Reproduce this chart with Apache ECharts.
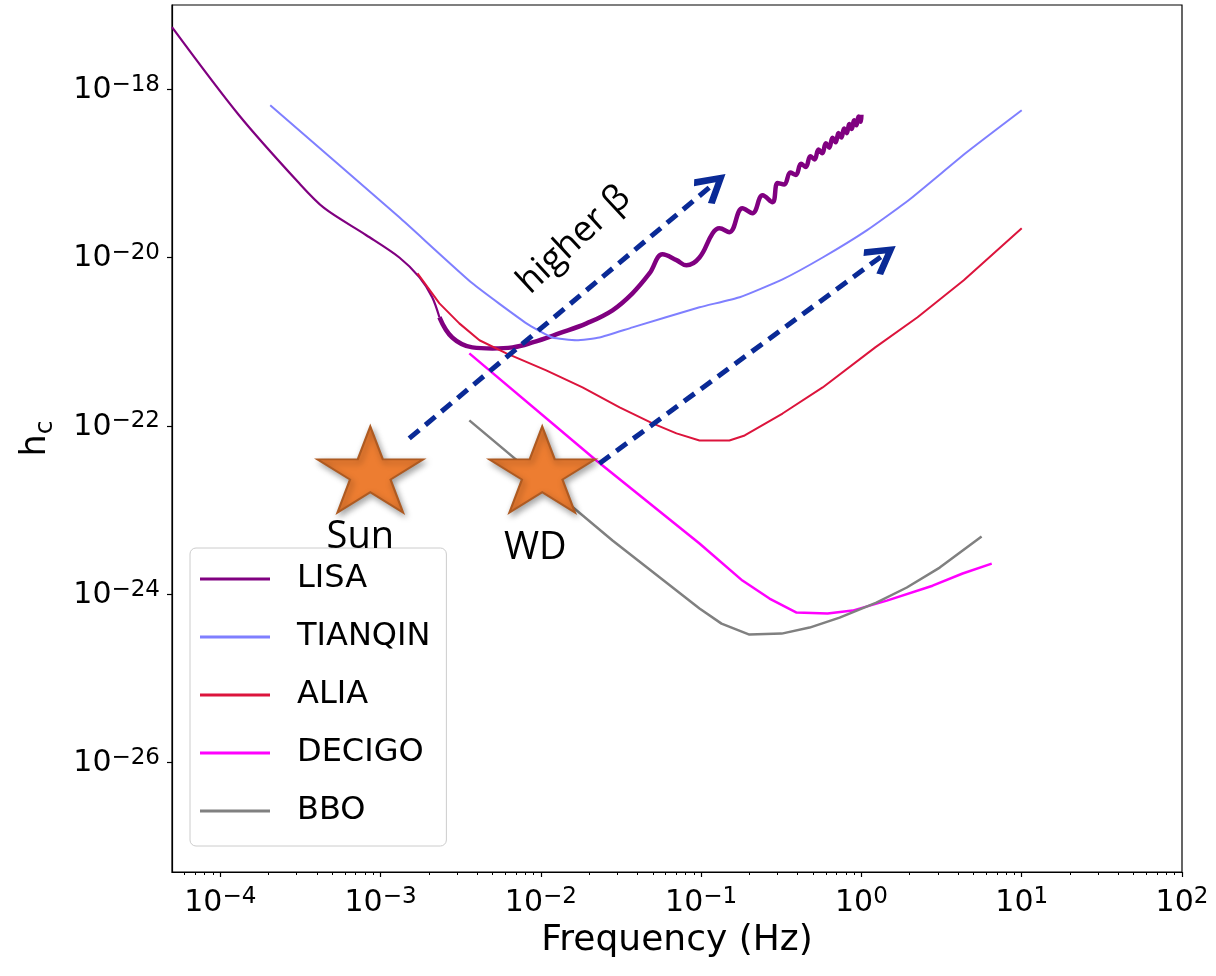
<!DOCTYPE html>
<html>
<head>
<meta charset="utf-8">
<script src="https://cdn.jsdelivr.net/npm/echarts@6/dist/echarts.min.js"></script>
<style>
html, body { margin: 0; padding: 0; background: #fff; }
#chart { width: 1216px; height: 976px; }
</style>
</head>
<body>
<div id="chart"></div>
<script>
// 读图得到的数据: 频率 (Hz) 和 h_c
var lisaFreqA = [5.0e-5, 1.31e-4, 3.11e-4, 4.46e-4, 8.15e-4, 1.31e-3, 1.75e-3, 2.10e-3, 2.33e-3];
var lisaHcA = [5.46e-18, 4.9e-19, 7.6e-20, 3.85e-20, 1.84e-20, 1.0e-20, 5.8e-21, 3.37e-21, 1.95e-21];

// LISA 粗线部分 (带振荡)
var lisaFreqB = [2.33e-3, 2.80e-3, 3.74e-3, 4.99e-3, 6.65e-3, 8.87e-3, 1.31e-2, 1.93e-2, 2.80e-2, 3.73e-2,
	4.77e-2, 5.74e-2, 7.02e-2, 8.10e-2, 9.77e-2, 0.118, 0.130, 0.150, 0.181, 0.209, 0.242, 0.279,
	0.30, 0.33, 0.36, 0.39, 0.42, 0.45, 0.48, 0.51, 0.54, 0.57, 0.60, 0.63, 0.66, 0.69, 0.72, 0.75,
	0.78, 0.81, 0.84, 0.87, 0.90, 0.93, 0.96, 0.99, 1.0];
var lisaHcB = [1.95e-21, 1.12e-21, 8.55e-22, 8.3e-22, 8.55e-22, 9.8e-22, 1.26e-21, 1.65e-21, 2.36e-21, 3.75e-21,
	6.5e-21, 1.09e-20, 9.3e-21, 8.07e-21, 1.0e-20, 1.94e-20, 2.22e-20, 2.0e-20, 3.85e-20, 3.36e-20, 5.5e-20, 4.53e-20,
	7.69e-20, 7.38e-20, 1.02e-19, 9.57e-20, 1.30e-19, 1.19e-19, 1.60e-19, 1.46e-19, 1.92e-19, 1.73e-19, 2.28e-19, 2.02e-19,
	2.64e-19, 2.34e-19, 3.01e-19, 2.66e-19, 3.42e-19, 3.0e-19, 3.85e-19, 3.36e-19, 4.28e-19, 3.72e-19, 4.73e-19, 4.09e-19, 4.96e-19];

var tianqinFreq = [2.05e-4, 1.31e-3, 3.74e-3, 8.13e-3, 1.18e-2, 1.67e-2, 2.32e-2, 3.73e-2, 9.77e-2, 0.174,
	0.322, 0.573, 1.08, 1.97, 4.54, 10.0];
var tianqinHc = [6.45e-19, 3.0e-20, 4.93e-21, 1.65e-21, 1.12e-21, 1.04e-21, 1.12e-21, 1.48e-21, 2.56e-21, 3.37e-21,
	5.5e-21, 1.0e-20, 2.1e-20, 4.79e-20, 1.78e-19, 5.62e-19];

var aliaFreq = [1.70e-3, 2.33e-3, 3.10e-3, 4.14e-3, 6.10e-3, 1.08e-2, 1.82e-2, 3.10e-2, 4.98e-2, 7.02e-2,
	9.77e-2, 0.150, 0.187, 0.322, 0.573, 1.22, 2.24, 4.35, 10.0];
var aliaHc = [6.48e-21, 2.85e-21, 1.65e-21, 1.04e-21, 7.26e-22, 4.56e-22, 2.86e-22, 1.66e-22, 1.07e-22, 8.13e-23,
	6.70e-23, 6.70e-23, 7.69e-23, 1.40e-22, 2.86e-22, 8.55e-22, 1.95e-21, 5.36e-21, 2.22e-20];

var decigoFreq = [3.58e-3, 2.22e-2, 9.77e-2, 0.181, 0.267, 0.394, 0.615, 0.881, 1.44, 2.78, 4.28, 6.50];
var decigoHc = [7.26e-22, 3.88e-23, 4.0e-24, 1.45e-24, 8.87e-25, 6.04e-25, 5.88e-25, 6.38e-25, 8.39e-25, 1.26e-24, 1.76e-24, 2.31e-24];

var bboFreq = [3.58e-3, 2.80e-2, 9.77e-2, 0.134, 0.200, 0.318, 0.475, 0.731, 1.24, 1.92, 3.08, 5.62];
var bboHc = [1.16e-22, 4.34e-24, 6.74e-25, 4.47e-25, 3.31e-25, 3.40e-25, 4.01e-25, 5.27e-25, 7.94e-25, 1.20e-24, 2.07e-24, 4.84e-24];

// 标注: 星星和箭头
var starNames = ['Sun', 'WD'];
var starFreq = [8.63e-4, 1.02e-2];
var starHc = [3.03e-23, 3.03e-23];
var arrowFrom = [[1.51e-3, 7.08e-23], [2.32e-2, 3.57e-23]];
var arrowTo = [[0.119, 7.41e-20], [1.36, 1.06e-20]];

// 坐标轴 (log10 指数)
var xMin = 5e-5, xMax = 100;
var yMin = 5.0e-28, yMax = 1e-17;
var xTickExp = [-4, -3, -2, -1, 0, 1, 2];
var yTickExp = [-26, -24, -22, -20, -18];

function toLog(freq, hc) {
	return freq.map(function (f, i) { return [Math.log10(f), Math.log10(hc[i])]; });
}

// x 轴次刻度
var xMinor = [];
for (var n = -5; n <= 1; n++) {
	for (var k = 2; k <= 9; k++) {
		var v = Math.log10(k) + n;
		if (v > Math.log10(xMin) && v < Math.log10(xMax)) xMinor.push(v);
	}
}

function expLabel(v) {
	var e = Math.round(v);
	return '{b|10}{s|' + (e < 0 ? '\u2212' : '') + Math.abs(e) + '}';
}

var tickRich = {
	b: { fontSize: 30, fontFamily: 'DejaVu Sans', color: '#000', lineHeight: 32, verticalAlign: 'bottom' },
	s: { fontSize: 23, fontFamily: 'DejaVu Sans', color: '#000', lineHeight: 22, verticalAlign: 'top' }
};

var starPath = 'path://M50,0 L61.23,34.55 L97.55,34.55 L68.17,55.9 L79.39,90.45 L50,69.1 L20.61,90.45 L31.83,55.9 L2.45,34.55 L38.77,34.55 Z';
var chevronPath = 'path://M50,0 L100,72 L84,84 L50,34 L16,84 L0,72 Z';

var chart = echarts.init(document.getElementById('chart'));

var option = {
	animation: false,
	backgroundColor: '#fff',
	grid: {
		left: 172, right: 34, top: 5, bottom: 104,
		show: true, borderColor: '#000', borderWidth: 1.2,
		outerBoundsMode: 'none'
	},
	legend: {
		data: ['LISA', 'TIANQIN', 'ALIA', 'DECIGO', 'BBO'],
		orient: 'vertical',
		left: 190, top: 548,
		padding: [14, 16, 18, 10],
		icon: 'rect',
		itemWidth: 70, itemHeight: 3, itemGap: 24,
		backgroundColor: 'rgba(255,255,255,0.8)',
		borderColor: '#cccccc', borderWidth: 1, borderRadius: 6,
		textStyle: { fontFamily: 'DejaVu Sans', fontSize: 32, color: '#000', lineHeight: 34, padding: [0, 0, 0, 22] },
		selectedMode: false
	},
	xAxis: [{
		type: 'value',
		min: Math.log10(xMin), max: Math.log10(xMax),
		name: 'Frequency (Hz)', nameLocation: 'middle', nameGap: 46,
		nameTextStyle: { fontFamily: 'DejaVu Sans', fontSize: 36, color: '#000' },
		splitLine: { show: false },
		axisLine: { onZero: false, lineStyle: { color: '#000', width: 1.2 } },
		axisTick: { customValues: xTickExp, length: 5, lineStyle: { color: '#000', width: 1.2 } },
		axisLabel: { customValues: xTickExp, formatter: expLabel, margin: 14, rich: tickRich }
	}, {
		type: 'value', position: 'bottom',
		min: Math.log10(xMin), max: Math.log10(xMax),
		splitLine: { show: false },
		axisLine: { show: false, onZero: false },
		axisTick: { customValues: xMinor, length: 3, lineStyle: { color: '#000', width: 1 } },
		axisLabel: { show: false }
	}],
	yAxis: {
		type: 'value',
		min: Math.log10(yMin), max: Math.log10(yMax),
		name: '{h|h}{c|c}', nameLocation: 'middle', nameRotate: 90, nameGap: 114,
		nameTextStyle: {
			rich: {
				h: { fontSize: 35, fontFamily: 'DejaVu Sans', color: '#000', lineHeight: 40, verticalAlign: 'top' },
				c: { fontSize: 25, fontFamily: 'DejaVu Sans', color: '#000', lineHeight: 24, verticalAlign: 'bottom' }
			}
		},
		splitLine: { show: false },
		axisLine: { onZero: false, lineStyle: { color: '#000', width: 1.2 } },
		axisTick: { customValues: yTickExp, length: 5, lineStyle: { color: '#000', width: 1.2 } },
		axisLabel: { customValues: yTickExp, formatter: expLabel, margin: 12, rich: tickRich }
	},
	graphic: [{
		type: 'text',
		x: 574, y: 240,
		rotation: 43 * Math.PI / 180,
		z: 100,
		style: {
			text: 'higher \u03b2', fontSize: 36, fontFamily: 'Open Sans', fill: '#000',
			align: 'center', verticalAlign: 'middle', textAlign: 'center', textVerticalAlign: 'middle'
		}
	}],
	series: [
		{ name: 'LISA', type: 'line', data: toLog(lisaFreqA, lisaHcA), symbol: 'none', smooth: 0.3,
			lineStyle: { color: '#800080', width: 2.2 }, itemStyle: { color: '#800080' }, z: 3 },
		{ name: 'LISA', type: 'line', data: toLog(lisaFreqB, lisaHcB), symbol: 'none', smooth: 0.4,
			lineStyle: { color: '#800080', width: 4.5 }, itemStyle: { color: '#800080' }, z: 3 },
		{ name: 'TIANQIN', type: 'line', data: toLog(tianqinFreq, tianqinHc), symbol: 'none', smooth: 0.15,
			lineStyle: { color: '#7f7fff', width: 2 }, itemStyle: { color: '#7f7fff' }, z: 3 },
		{ name: 'ALIA', type: 'line', data: toLog(aliaFreq, aliaHc), symbol: 'none',
			lineStyle: { color: '#dc143c', width: 2 }, itemStyle: { color: '#dc143c' }, z: 3 },
		{ name: 'DECIGO', type: 'line', data: toLog(decigoFreq, decigoHc), symbol: 'none',
			lineStyle: { color: '#ff00ff', width: 2.5 }, itemStyle: { color: '#ff00ff' }, z: 3 },
		{ name: 'BBO', type: 'line', data: toLog(bboFreq, bboHc), symbol: 'none',
			lineStyle: { color: '#808080', width: 2.5 }, itemStyle: { color: '#808080' }, z: 3 },
		{
			type: 'lines', coordinateSystem: 'cartesian2d', silent: true, z: 10,
			symbol: ['none', chevronPath], symbolSize: [1, 32],
			lineStyle: { color: '#0a2a96', width: 5, type: [13, 8], opacity: 1, curveness: 0 },
			data: arrowFrom.map(function (p, i) {
				return { coords: [[Math.log10(p[0]), Math.log10(p[1])], [Math.log10(arrowTo[i][0]), Math.log10(arrowTo[i][1])]] };
			})
		},
		{
			type: 'scatter', silent: true, z: 12,
			symbol: starPath, symbolSize: [106, 86],
			itemStyle: {
				color: '#ed7d31', opacity: 1, borderColor: '#ae5a21', borderWidth: 2,
				shadowBlur: 6, shadowColor: 'rgba(0,0,0,0.35)', shadowOffsetX: 2, shadowOffsetY: 3
			},
			label: {
				show: true, position: 'inside', formatter: '{b}',
				fontFamily: 'Open Sans', fontSize: 38, color: '#000', opacity: 1, textBorderWidth: 0
			},
			data: starNames.map(function (nm, i) {
				return {
					name: nm,
					value: [Math.log10(starFreq[i]), Math.log10(starHc[i])],
					label: { offset: i === 0 ? [-10, 68] : [-7, 79] }
				};
			})
		}
	]
};

chart.setOption(option);
</script>
</body>
</html>
